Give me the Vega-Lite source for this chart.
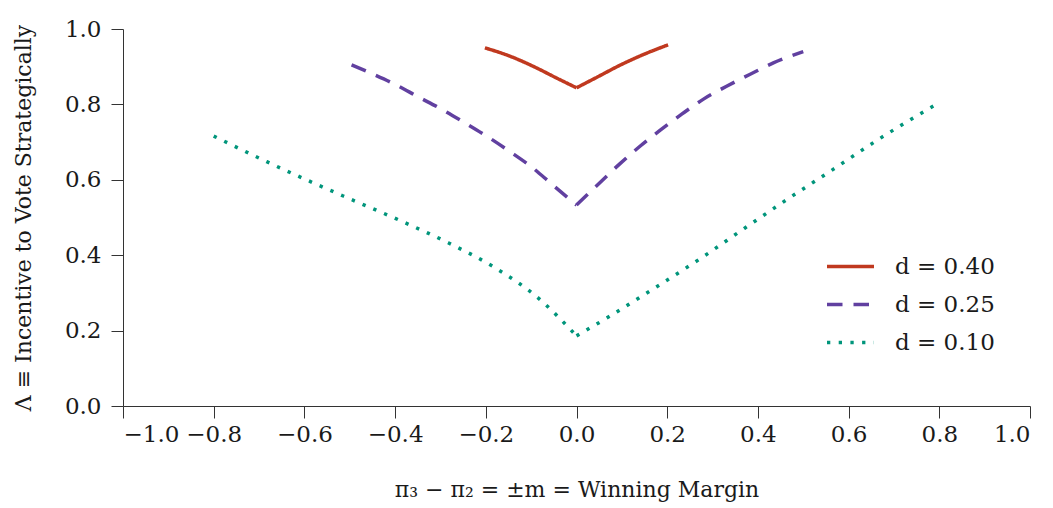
{
  "$schema": "https://vega.github.io/schema/vega-lite/v6.json",
  "autosize": {"type": "none"},
  "padding": {"left": 123, "top": 29, "right": 23, "bottom": 102},
  "width": 907,
  "height": 377,
  "background": "white",
  "config": {
    "view": {"stroke": null},
    "font": "DejaVu Serif",
    "axis": {
      "grid": false,
      "domainColor": "#333333",
      "tickColor": "#333333",
      "tickSize": 12,
      "labelFont": "DejaVu Serif",
      "labelFontSize": 23,
      "labelColor": "#1a1a1a",
      "titleFont": "DejaVu Serif",
      "titleFontSize": 22,
      "titleFontWeight": "normal",
      "titleColor": "#1a1a1a"
    },
    "legend": {
      "labelFont": "DejaVu Serif",
      "labelFontSize": 23,
      "labelColor": "#1a1a1a"
    }
  },
  "data": {
    "values": [
      {"d": "d = 0.40", "side": "L", "m": -0.202, "lambda": 0.950},
      {"d": "d = 0.40", "side": "L", "m": -0.147, "lambda": 0.928},
      {"d": "d = 0.40", "side": "L", "m": -0.092, "lambda": 0.899},
      {"d": "d = 0.40", "side": "L", "m": -0.044, "lambda": 0.870},
      {"d": "d = 0.40", "side": "L", "m": 0.0, "lambda": 0.844},
      {"d": "d = 0.40", "side": "R", "m": 0.0, "lambda": 0.844},
      {"d": "d = 0.40", "side": "R", "m": 0.045, "lambda": 0.872},
      {"d": "d = 0.40", "side": "R", "m": 0.096, "lambda": 0.904},
      {"d": "d = 0.40", "side": "R", "m": 0.147, "lambda": 0.932},
      {"d": "d = 0.40", "side": "R", "m": 0.202, "lambda": 0.958},
      {"d": "d = 0.25", "side": "L", "m": -0.496, "lambda": 0.905},
      {"d": "d = 0.25", "side": "L", "m": -0.452, "lambda": 0.882},
      {"d": "d = 0.25", "side": "L", "m": -0.400, "lambda": 0.853},
      {"d": "d = 0.25", "side": "L", "m": -0.349, "lambda": 0.820},
      {"d": "d = 0.25", "side": "L", "m": -0.297, "lambda": 0.787},
      {"d": "d = 0.25", "side": "L", "m": -0.246, "lambda": 0.751},
      {"d": "d = 0.25", "side": "L", "m": -0.197, "lambda": 0.715},
      {"d": "d = 0.25", "side": "L", "m": -0.147, "lambda": 0.675},
      {"d": "d = 0.25", "side": "L", "m": -0.099, "lambda": 0.634},
      {"d": "d = 0.25", "side": "L", "m": -0.055, "lambda": 0.589},
      {"d": "d = 0.25", "side": "L", "m": 0.0, "lambda": 0.533},
      {"d": "d = 0.25", "side": "R", "m": 0.0, "lambda": 0.533},
      {"d": "d = 0.25", "side": "R", "m": 0.052, "lambda": 0.593},
      {"d": "d = 0.25", "side": "R", "m": 0.096, "lambda": 0.643},
      {"d": "d = 0.25", "side": "R", "m": 0.140, "lambda": 0.689},
      {"d": "d = 0.25", "side": "R", "m": 0.184, "lambda": 0.731},
      {"d": "d = 0.25", "side": "R", "m": 0.232, "lambda": 0.774},
      {"d": "d = 0.25", "side": "R", "m": 0.280, "lambda": 0.814},
      {"d": "d = 0.25", "side": "R", "m": 0.331, "lambda": 0.848},
      {"d": "d = 0.25", "side": "R", "m": 0.383, "lambda": 0.880},
      {"d": "d = 0.25", "side": "R", "m": 0.434, "lambda": 0.910},
      {"d": "d = 0.25", "side": "R", "m": 0.500, "lambda": 0.940},
      {"d": "d = 0.10", "side": "L", "m": -0.8, "lambda": 0.716},
      {"d": "d = 0.10", "side": "L", "m": -0.683, "lambda": 0.648},
      {"d": "d = 0.10", "side": "L", "m": -0.577, "lambda": 0.590},
      {"d": "d = 0.10", "side": "L", "m": -0.497, "lambda": 0.548},
      {"d": "d = 0.10", "side": "L", "m": -0.389, "lambda": 0.492},
      {"d": "d = 0.10", "side": "L", "m": -0.283, "lambda": 0.433},
      {"d": "d = 0.10", "side": "L", "m": -0.180, "lambda": 0.367},
      {"d": "d = 0.10", "side": "L", "m": -0.083, "lambda": 0.285},
      {"d": "d = 0.10", "side": "L", "m": 0.0, "lambda": 0.186},
      {"d": "d = 0.10", "side": "R", "m": 0.0, "lambda": 0.186},
      {"d": "d = 0.10", "side": "R", "m": 0.076, "lambda": 0.240},
      {"d": "d = 0.10", "side": "R", "m": 0.175, "lambda": 0.315},
      {"d": "d = 0.10", "side": "R", "m": 0.273, "lambda": 0.391},
      {"d": "d = 0.10", "side": "R", "m": 0.370, "lambda": 0.471},
      {"d": "d = 0.10", "side": "R", "m": 0.467, "lambda": 0.550},
      {"d": "d = 0.10", "side": "R", "m": 0.565, "lambda": 0.627},
      {"d": "d = 0.10", "side": "R", "m": 0.663, "lambda": 0.705},
      {"d": "d = 0.10", "side": "R", "m": 0.8, "lambda": 0.805}
    ]
  },
  "mark": {"type": "line", "interpolate": "monotone", "strokeWidth": 3.5, "strokeCap": "butt", "strokeJoin": "miter"},
  "encoding": {
    "x": {
      "field": "m",
      "type": "quantitative",
      "scale": {"domain": [-1, 1], "nice": false, "zero": false},
      "axis": {"values": [-1, -0.8, -0.6, -0.4, -0.2, 0, 0.2, 0.4, 0.6, 0.8, 1], "format": ".1f", "labelPadding": 5, "titlePadding": 33, "title": "π₃ − π₂ = ±m = Winning Margin"}
    },
    "y": {
      "field": "lambda",
      "type": "quantitative",
      "scale": {"domain": [0, 1], "nice": false},
      "axis": {"values": [0, 0.2, 0.4, 0.6, 0.8, 1], "format": ".1f", "labelPadding": 10, "titlePadding": 29, "title": "Λ ≡ Incentive to Vote Strategically"}
    },
    "color": {
      "field": "d",
      "type": "nominal",
      "scale": {"domain": ["d = 0.40", "d = 0.25", "d = 0.10"], "range": ["#c0391f", "#6140a0", "#00957b"]},
      "legend": {"title": null, "orient": "none", "legendX": 702, "legendY": 212, "symbolType": "stroke", "symbolSize": 2209, "symbolStrokeWidth": 3.5, "rowPadding": -9, "labelOffset": 19}
    },
    "strokeDash": {
      "field": "d",
      "type": "nominal",
      "scale": {"domain": ["d = 0.40", "d = 0.25", "d = 0.10"], "range": [[1, 0], [15.5, 11], [3.3, 8.4]]},
      "legend": {"title": null, "orient": "none", "legendX": 702, "legendY": 212, "symbolType": "stroke", "symbolSize": 2209, "symbolStrokeWidth": 3.5, "rowPadding": -9, "labelOffset": 19}
    },
    "detail": {"field": "side"}
  }
}
